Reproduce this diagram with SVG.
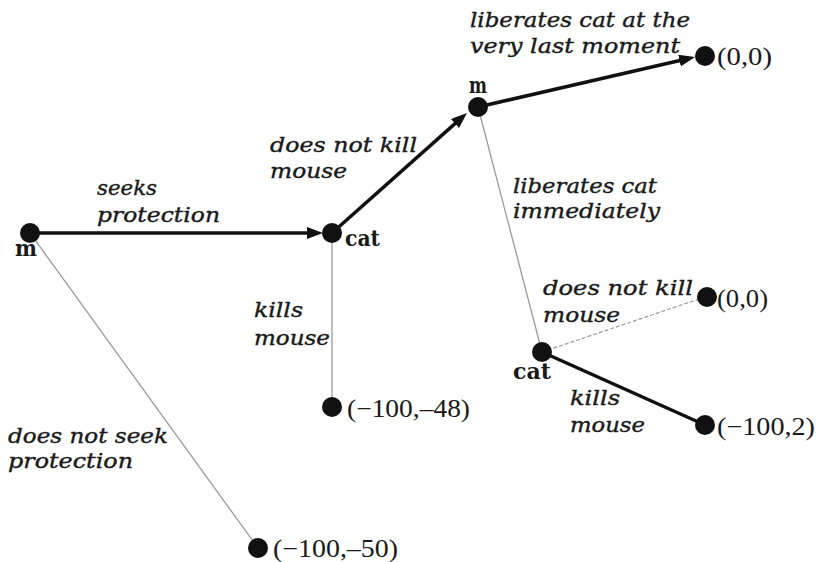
<svg xmlns="http://www.w3.org/2000/svg" width="821" height="562" viewBox="0 0 821 562">
<defs>
<style>
.lbl{font-family:"DejaVu Serif","Liberation Serif",serif;font-style:italic;font-size:21px;fill:#1a1a1a;stroke:#1a1a1a;stroke-width:0.4}
.pay{font-family:"Liberation Serif","Times New Roman",serif;font-size:25px;fill:#1a1a1a}
.pl{font-family:"DejaVu Serif","Liberation Serif",serif;font-weight:bold;font-size:23px;fill:#1a1a1a}
.dot{fill:#111}
.thick{stroke:#111;stroke-width:3.5;fill:none}
.thin{stroke:#9a9a9a;stroke-width:1.3;fill:none}
.dash{stroke:#9a9a9a;stroke-width:1.2;stroke-dasharray:4 2;fill:none}
</style>
<marker id="ah" viewBox="0 0 16 12" markerUnits="userSpaceOnUse" markerWidth="16" markerHeight="12" refX="6" refY="6" orient="auto">
<path d="M0,0 L16,6 L0,12 z" fill="#111"/>
</marker>
</defs>
<rect width="821" height="562" fill="#fff"/>
<g id="connectors">
<line class="thick" x1="30" y1="233" x2="313" y2="233" marker-end="url(#ah)"/>
<line class="thick" x1="332" y1="233" x2="459.5" y2="119.6" marker-end="url(#ah)"/>
<line class="thick" x1="478" y1="107" x2="685.3" y2="59.2" marker-end="url(#ah)"/>
<line class="thin" x1="30" y1="233" x2="258" y2="548"/>
<line class="thin" x1="332" y1="233" x2="332" y2="407"/>
<line class="thin" x1="478" y1="107" x2="542" y2="352"/>
<line class="dash" x1="542" y1="352" x2="705" y2="297"/>
<line class="thick" x1="542" y1="352" x2="705" y2="425"/>
<text class="lbl" x="97" y="195" textLength="60" lengthAdjust="spacingAndGlyphs">seeks</text>
<text class="lbl" x="97" y="222" textLength="123" lengthAdjust="spacingAndGlyphs">protection</text>
<text class="lbl" x="270" y="152" textLength="147" lengthAdjust="spacingAndGlyphs">does not kill</text>
<text class="lbl" x="270" y="178" textLength="77" lengthAdjust="spacingAndGlyphs">mouse</text>
<text class="lbl" x="470" y="27" textLength="220" lengthAdjust="spacingAndGlyphs">liberates cat at the</text>
<text class="lbl" x="470" y="53" textLength="210" lengthAdjust="spacingAndGlyphs">very last moment</text>
<text class="lbl" x="513" y="193" textLength="144" lengthAdjust="spacingAndGlyphs">liberates cat</text>
<text class="lbl" x="513" y="218" textLength="147" lengthAdjust="spacingAndGlyphs">immediately</text>
<text class="lbl" x="254" y="317" textLength="49" lengthAdjust="spacingAndGlyphs">kills</text>
<text class="lbl" x="254" y="345" textLength="76" lengthAdjust="spacingAndGlyphs">mouse</text>
<text class="lbl" x="543" y="295" textLength="150" lengthAdjust="spacingAndGlyphs">does not kill</text>
<text class="lbl" x="543" y="322" textLength="77" lengthAdjust="spacingAndGlyphs">mouse</text>
<text class="lbl" x="570" y="405" textLength="50" lengthAdjust="spacingAndGlyphs">kills</text>
<text class="lbl" x="570" y="432" textLength="75" lengthAdjust="spacingAndGlyphs">mouse</text>
<text class="lbl" x="8" y="443" textLength="160" lengthAdjust="spacingAndGlyphs">does not seek</text>
<text class="lbl" x="8" y="468" textLength="125" lengthAdjust="spacingAndGlyphs">protection</text>
</g>
<g id="m1"><circle class="dot" cx="30" cy="233" r="10"/><text class="pl" x="15" y="256" textLength="22" lengthAdjust="spacingAndGlyphs">m</text></g>
<g id="cat1"><circle class="dot" cx="332" cy="233" r="10"/><text class="pl" x="345" y="246" textLength="35" lengthAdjust="spacingAndGlyphs">cat</text></g>
<g id="m2"><circle class="dot" cx="478" cy="107" r="10"/><text class="pl" x="469" y="93" textLength="18" lengthAdjust="spacingAndGlyphs">m</text></g>
<g id="cat2"><circle class="dot" cx="542" cy="352" r="10"/><text class="pl" x="513" y="379" textLength="38" lengthAdjust="spacingAndGlyphs">cat</text></g>
<g id="payoff-top"><circle class="dot" cx="705" cy="56" r="10"/><text class="pay" x="717" y="65" textLength="55" lengthAdjust="spacingAndGlyphs">(0,0)</text></g>
<g id="payoff-mid"><circle class="dot" cx="707" cy="297" r="10"/><text class="pay" x="717" y="307" textLength="51" lengthAdjust="spacingAndGlyphs">(0,0)</text></g>
<g id="payoff-right"><circle class="dot" cx="705" cy="425" r="10"/><text class="pay" x="717" y="435" textLength="98" lengthAdjust="spacingAndGlyphs">(−100,2)</text></g>
<g id="payoff-kill"><circle class="dot" cx="332" cy="407" r="10"/><text class="pay" x="347" y="417" textLength="123" lengthAdjust="spacingAndGlyphs">(−100,–48)</text></g>
<g id="payoff-noseek"><circle class="dot" cx="258" cy="548" r="10"/><text class="pay" x="273" y="557" textLength="125" lengthAdjust="spacingAndGlyphs">(−100,–50)</text></g>
</svg>
